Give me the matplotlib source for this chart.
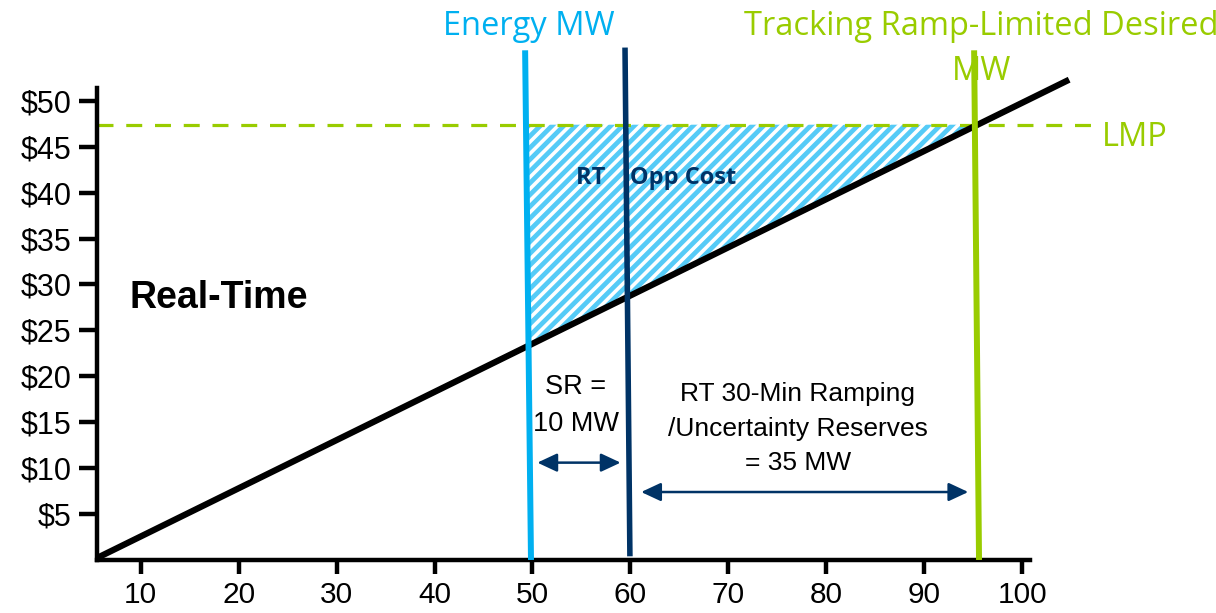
import numpy as np
import matplotlib
matplotlib.use("Agg")
import matplotlib.pyplot as plt
from matplotlib.collections import LineCollection
from matplotlib.patches import Polygon

# ---- data ----
x_ticks = [10, 20, 30, 40, 50, 60, 70, 80, 90, 100]
y_ticks = [5, 10, 15, 20, 25, 30, 35, 40, 45, 50]
y_labels = ["$5", "$10", "$15", "$20", "$25", "$30", "$35", "$40", "$45", "$50"]

supply_mw = [5.5, 104.8]          # offer curve (MW)
supply_price = [0.2, 52.3]        # offer curve ($/MWh)
lmp = 47.4
lmp_mw = [5.5, 108.0]

energy_mw = [49.85, 49.25]        # Energy MW marker (bottom, top)
sr_mw = [59.95, 59.45]            # energy + spinning reserve
track_mw = [95.6, 95.1]           # tracking ramp-limited desired MW
marker_price = [0.0, 55.5]
sr_price = [0.4, 55.8]

sr_arrow_mw = [50.5, 59.0]
sr_arrow_price = 10.6
ramp_arrow_mw = [61.1, 94.5]
ramp_arrow_price = 7.4

# ---- colours ----
c_energy = "#00B0F0"
c_navy = "#003366"
c_green = "#99CC00"
c_hatch = "#55CBF7"

fig = plt.figure(figsize=(12.16, 6.13), dpi=100)
ax = fig.add_axes([0.0795, 0.0865, 0.7675, 0.77])
ax.set_xlim(5.5, 100.8)
ax.set_ylim(0, 51.4)


def x_at(line_x, line_y, p):
    return np.interp(p, line_y, line_x)


def supply_at(x):
    return np.interp(x, supply_mw, supply_price)


# opportunity-cost region: between Energy MW, LMP and the offer curve
a = (x_at(energy_mw, marker_price, lmp), lmp)
slope = (supply_price[1] - supply_price[0]) / (supply_mw[1] - supply_mw[0])
b = (supply_mw[0] + (lmp - supply_price[0]) / slope, lmp)
ex = energy_mw[0]
for _ in range(5):
    ex = x_at(energy_mw, marker_price, supply_at(ex))
c = (ex, supply_at(ex))
region = Polygon([a, b, c], closed=True, facecolor="none", edgecolor="none")
ax.add_patch(region)

# diagonal stripes clipped to the region
s = 1.065
offs = np.arange(-20, 110, 1.2)
segs = [[(o, 0), (o + 60 / s, 60)] for o in offs]
stripes = LineCollection(segs, colors=c_hatch, linewidths=3.4)
ax.add_collection(stripes)
stripes.set_clip_path(region)

# offer curve
ax.plot(supply_mw, supply_price, color="black", lw=4.5, clip_on=False,
        solid_capstyle="butt", zorder=3)

# LMP
ax.plot(lmp_mw, [lmp, lmp], color=c_green, lw=2.3, dashes=(5, 4),
        clip_on=False, zorder=2)

# MW markers
ax.plot(energy_mw, marker_price, color=c_energy, lw=4.3, clip_on=False,
        solid_capstyle="butt", zorder=4)
ax.plot(sr_mw, sr_price, color=c_navy, lw=4.0, clip_on=False,
        solid_capstyle="butt", zorder=4)
ax.plot(track_mw, marker_price, color=c_green, lw=4.3, clip_on=False,
        solid_capstyle="butt", zorder=4)

# arrows
arrow_kw = dict(arrowstyle="<|-|>,head_length=0.6,head_width=0.28",
                mutation_scale=20, color=c_navy, lw=1.8, shrinkA=0, shrinkB=0)
ax.annotate("", xy=(sr_arrow_mw[1], sr_arrow_price),
            xytext=(sr_arrow_mw[0], sr_arrow_price), arrowprops=arrow_kw)
ax.annotate("", xy=(ramp_arrow_mw[1], ramp_arrow_price),
            xytext=(ramp_arrow_mw[0], ramp_arrow_price), arrowprops=arrow_kw)

# labels
ax.text(49.6, 58.1, "Energy MW", color=c_energy, fontsize=23.5,
        family="Open Sans", ha="center", va="center", clip_on=False)
ax.text(95.8, 58.1, "Tracking Ramp-Limited Desired", color=c_green,
        fontsize=23.5, family="Open Sans", ha="center", va="center", clip_on=False)
ax.text(95.9, 53.2, "MW", color=c_green, fontsize=23.5, family="Open Sans",
        ha="center", va="center", clip_on=False)
ax.text(108.1, 46.0, "LMP", color=c_green, fontsize=23.5, family="Open Sans",
        ha="left", va="center", clip_on=False)
ax.text(54.4, 41.6, "RT    Opp Cost", color=c_navy, fontsize=17,
        family="Open Sans", weight="bold", ha="left", va="center", zorder=5)
ax.text(8.9, 28.5, "Real-Time", color="black", fontsize=27,
        family="Liberation Sans", weight="bold", ha="left", va="center")
ax.text(54.4, 16.8, "SR =\n10 MW", color="black", fontsize=19.5,
        family="Liberation Sans", ha="center", va="center", linespacing=1.55)
ax.text(77.1, 14.3, "RT 30-Min Ramping\n/Uncertainty Reserves\n= 35 MW",
        color="black", fontsize=19, family="Liberation Sans", ha="center",
        va="center", linespacing=1.55)

# axes styling
for side in ("top", "right"):
    ax.spines[side].set_visible(False)
for side in ("left", "bottom"):
    ax.spines[side].set_linewidth(3.2)
ax.set_xticks(x_ticks)
ax.set_yticks(y_ticks)
ax.set_yticklabels(y_labels)
ax.tick_params(axis="x", length=10, width=3.2, labelsize=21.5, pad=5)
ax.tick_params(axis="y", length=13, width=3.2, labelsize=22, pad=5)
for lab in ax.get_xticklabels() + ax.get_yticklabels():
    lab.set_family("Liberation Sans")

fig.savefig("out.png", dpi=100)
